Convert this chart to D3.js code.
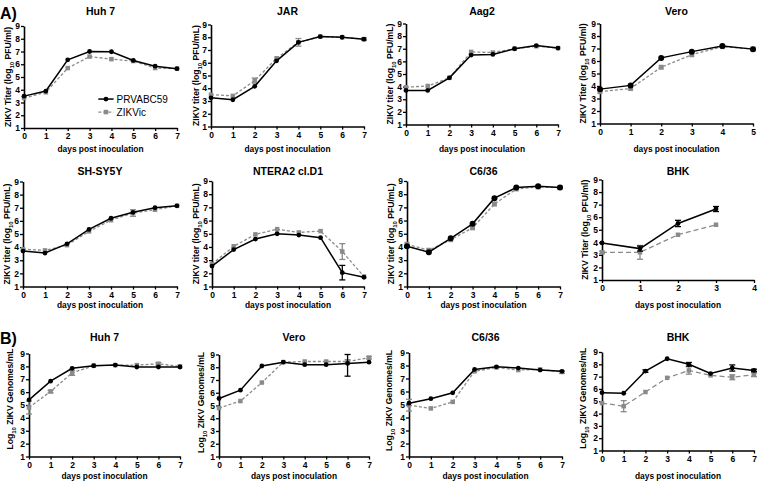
<!DOCTYPE html>
<html><head><meta charset="utf-8">
<script src="https://cdn.jsdelivr.net/npm/d3@7"></script>
<style>
body{margin:0;background:#fff}
text{font-family:"Liberation Sans",Arial,sans-serif;fill:#000}
</style>
</head><body><svg id="c" width="760" height="482"></svg>
<script>
// ---------- data ----------
const days7 = [0,1,2,3,4,5,6,7];
const days5 = [0,1,2,3,4,5];
const days3 = [0,1,2,3];
const seriesNames = ["PRVABC59","ZIKVic"];
const yTicks = [1,2,3,4,5,6,7,8,9];

const titles = ["Huh 7","JAR","Aag2","Vero","SH-SY5Y","NTERA2 cl.D1","C6/36","BHK","Huh 7","Vero","C6/36","BHK"];
const yLabelKinds = ["Tml","tmL","tmL","Tml","tmL","tmL","tmL","Tml","G","G","G","G"];

// A) titers
const huh7_prv = [3.5,3.9,6.35,7.0,6.98,6.3,5.85,5.65];
const huh7_zic = [3.35,3.8,5.7,6.6,6.4,6.25,5.7,5.65];
const jar_prv = [3.25,3.1,4.15,6.15,7.6,8.05,8.0,7.85];
const jar_zic = [3.5,3.4,4.6,6.35,7.6,8.05,8.0,7.85];
const jar_zicErr = [0,0,0.2,0,0.3,0,0,0.1];
const aag2_prv = [3.7,3.7,4.7,6.5,6.55,7.0,7.25,7.05];
const aag2_zic = [3.95,4.05,4.7,6.75,6.7,7.0,7.2,7.05];
const vero_prv = [3.75,4.05,6.25,6.75,7.2,6.95];
const vero_zic = [3.55,3.8,5.5,6.5,7.15,6.95];
const shsy_prv = [3.7,3.55,4.25,5.35,6.2,6.65,7.0,7.15];
const shsy_zic = [3.85,3.75,4.15,5.2,6.05,6.6,6.85,7.15];
const shsy_zicErr = [0,0,0,0,0,0.25,0,0];
const ntera_prv = [2.55,3.8,4.6,5.0,4.9,4.7,2.05,1.7];
const ntera_prvErr = [0,0,0,0,0,0,0.55,0];
const ntera_zic = [2.7,4.05,4.95,5.35,5.1,5.2,3.65,1.75];
const ntera_zicErr = [0,0,0,0,0,0,0.6,0];
const c636_prv = [4.05,3.6,4.65,5.75,7.7,8.5,8.6,8.5];
const c636_zic = [4.2,3.75,4.55,5.45,7.25,8.4,8.55,8.5];
const bhk_prv = [3.95,3.5,5.5,6.65];
const bhk_prvErr = [0,0.2,0.25,0.2];
const bhk_zic = [3.2,3.2,4.6,5.4];
const bhk_zicErr = [0.1,0.55,0,0];

// B) genomes
const gHuh7_prv = [5.4,6.85,7.85,8.05,8.1,7.95,7.95,7.95];
const gHuh7_zic = [4.8,6.05,7.5,8.05,8.1,8.1,8.2,8.0];
const gHuh7_zicErr = [0.5,0.1,0.2,0,0,0,0.1,0];
const gVero_prv = [5.55,6.2,8.1,8.4,8.2,8.2,8.3,8.4];
const gVero_prvErr = [0,0,0,0,0,0,1.0,0];
const gVero_zic = [4.8,5.35,6.8,8.4,8.45,8.45,8.45,8.75];
const gVero_zicErr = [0,0,0,0,0,0,0.15,0.1];
const gC636_prv = [5.1,5.45,5.9,7.7,7.9,7.8,7.65,7.55];
const gC636_zic = [4.95,4.7,5.2,7.55,7.85,7.65,7.7,7.5];
const gC636_zicErr = [0.45,0,0,0,0,0,0,0.1];
const gBhk_prv = [5.7,5.65,7.45,8.45,8.0,7.25,7.7,7.5];
const gBhk_prvErr = [0,0,0.1,0,0.15,0,0.25,0.1];
const gBhk_zic = [4.85,4.6,5.75,6.9,7.5,7.1,6.95,7.15];
const gBhk_zicErr = [0,0.45,0,0,0.3,0,0.2,0.15];

// ---------- layout ----------
const panels = [
 {d:days7,xMax:7,p:huh7_prv,z:huh7_zic, box:[24,177,26,128], row:0, legend:true, yl:16},
 {d:days7,xMax:7,p:jar_prv,z:jar_zic,zE:jar_zicErr, box:[211,364,24.5,126.5], row:0, yl:15},
 {d:days7,xMax:7,p:aag2_prv,z:aag2_zic, box:[406,558,23.5,124.5], row:0, yl:16},
 {d:days5,xMax:5,p:vero_prv,z:vero_zic, box:[600,753,23.5,123.5], row:0, big:true, yl:17},
 {d:days7,xMax:7,p:shsy_prv,z:shsy_zic,zE:shsy_zicErr, box:[23,177,181.5,286.5], row:1, yl:16},
 {d:days7,xMax:7,p:ntera_prv,pE:ntera_prvErr,z:ntera_zic,zE:ntera_zicErr, box:[212,364,181,286.5], row:1, yl:16},
 {d:days7,xMax:7,p:c636_prv,z:c636_zic, box:[407,560,181,286.5], row:1, big:true, yl:16},
 {d:days3,xMax:4,p:bhk_prv,pE:bhk_prvErr,z:bhk_zic,zE:bhk_zicErr, box:[602,754,179.5,280], row:1, longDash:true, yl:17},
 {d:days7,xMax:7,p:gHuh7_prv,z:gHuh7_zic,zE:gHuh7_zicErr, box:[29,180,353.5,456.5], row:2, yl:19, ylShift:-6},
 {d:days7,xMax:7,p:gVero_prv,pE:gVero_prvErr,z:gVero_zic,zE:gVero_zicErr, box:[219,369,354.5,456.5], row:2, yl:18, ylShift:-3},
 {d:days7,xMax:7,p:gC636_prv,z:gC636_zic,zE:gC636_zicErr, box:[409,562,352.5,456.5], row:2, yl:20, ylShift:-4},
 {d:days7,xMax:7,p:gBhk_prv,pE:gBhk_prvErr,z:gBhk_zic,zE:gBhk_zicErr, box:[602,754,352,450.5], row:2, longDash:true, yl:19, ylShift:-3}
];
const titleY = [15,175,341];
const xTitleY = [152,308,479];

const svg = d3.select("#c");
svg.append("text").attr("x",0).attr("y",19).attr("font-size",16).attr("font-weight","bold").text("A)");
svg.append("text").attr("x",0).attr("y",344).attr("font-size",16).attr("font-weight","bold").text("B)");

const BLACK="#000", GRAY="#8a8a8a";

panels.forEach((P,i)=>{
  const [x0,x1,yT,yB]=P.box;
  const x=d3.scaleLinear().domain([0,P.xMax]).range([x0,x1]);
  const y=d3.scaleLinear().domain([1,9]).range([yB,yT]);
  const g=svg.append("g");

  // axes
  const ax=g.append("g").attr("transform",`translate(0,${yB})`)
    .call(d3.axisBottom(x).tickValues(d3.range(0,P.xMax+1)).tickFormat(d3.format("d")).tickSize(3).tickSizeOuter(0).tickPadding(2));
  const ay=g.append("g").attr("transform",`translate(${x0},0)`)
    .call(d3.axisLeft(y).tickValues(yTicks).tickFormat(d3.format("d")).tickSize(3).tickSizeOuter(0).tickPadding(1));
  [ax,ay].forEach(a=>{
    a.select(".domain").attr("stroke","#000").attr("stroke-width",1.6);
    a.selectAll(".tick line").attr("stroke","#000").attr("stroke-width",1.3);
    a.selectAll(".tick text").attr("font-size",8.5).attr("font-family","Liberation Sans,Arial").attr("font-weight","bold").attr("fill","#000");
  });

  // title
  g.append("text").attr("x",(x0+x1)/2).attr("y",titleY[P.row]).attr("text-anchor","middle").attr("font-size",10.5).attr("font-weight","bold").text(titles[i]);
  // x title
  g.append("text").attr("x",(x0+x1)/2).attr("y",xTitleY[P.row]).attr("text-anchor","middle").attr("font-size",8.4).attr("font-weight","bold").text("days post inoculation");
  // y title
  const yl=g.append("text").attr("transform",`translate(${x0-P.yl+3},${(yT+yB)/2+(P.ylShift||0)}) rotate(-90)`).attr("text-anchor","middle").attr("font-size",8.6).attr("font-weight","bold");
  const kind=yLabelKinds[i];
  if(kind==="G"){
    yl.append("tspan").text("Log");
    yl.append("tspan").attr("font-size",6).attr("dy",2.5).text("10");
    yl.append("tspan").attr("dy",-2.5).text(" ZIKV Genomes/mL");
  } else {
    yl.append("tspan").text(kind==="Tml"?"ZIKV Titer (log":"ZIKV titer (log");
    yl.append("tspan").attr("font-size",6).attr("dy",2.5).text("10");
    yl.append("tspan").attr("dy",-2.5).text(kind==="Tml"?" PFU/ml)":" PFU/mL)");
  }

  const line=d3.line().x((v,k)=>x(P.d[k])).y(v=>y(v));
  const drawErr=(vals,errs,col)=>{
    if(!errs) return;
    vals.forEach((v,k)=>{
      const e=errs[k]; if(!e) return;
      const cx=x(P.d[k]);
      const lo=y(v-e), hi=y(Math.min(9,v+e));
      g.append("line").attr("x1",cx).attr("x2",cx).attr("y1",lo).attr("y2",hi).attr("stroke",col).attr("stroke-width",1.3);
      [lo,hi].forEach(yy=>g.append("line").attr("x1",cx-3).attr("x2",cx+3).attr("y1",yy).attr("y2",yy).attr("stroke",col).attr("stroke-width",1.3));
    });
  };
  g.append("path").datum(P.z).attr("d",line).attr("fill","none").attr("stroke",GRAY).attr("stroke-width",1.3)
    .attr("stroke-dasharray",P.longDash?"5,3":"3,2");
  drawErr(P.z,P.zE,GRAY);
  const sq=P.big?5:4.5;
  g.selectAll(null).data(P.z).enter().append("rect")
    .attr("x",(v,k)=>x(P.d[k])-sq/2).attr("y",v=>y(v)-sq/2).attr("width",sq).attr("height",sq).attr("fill",GRAY);

  g.append("path").datum(P.p).attr("d",line).attr("fill","none").attr("stroke",BLACK).attr("stroke-width",1.5);
  drawErr(P.p,P.pE,BLACK);
  g.selectAll(null).data(P.p).enter().append("circle")
    .attr("cx",(v,k)=>x(P.d[k])).attr("cy",v=>y(v)).attr("r",P.big?3:2.4).attr("fill",BLACK);

  if(P.legend){
    const lg=g.append("g");
    const lx0=x(3.4), lx1=x(4.1), ly=[y(3.27),y(2.25)];
    lg.append("line").attr("x1",lx0).attr("x2",lx1).attr("y1",ly[0]).attr("y2",ly[0]).attr("stroke",BLACK).attr("stroke-width",1.5);
    lg.append("circle").attr("cx",(lx0+lx1)/2).attr("cy",ly[0]).attr("r",2.4).attr("fill",BLACK);
    lg.append("line").attr("x1",lx0).attr("x2",lx1).attr("y1",ly[1]).attr("y2",ly[1]).attr("stroke",GRAY).attr("stroke-width",1.3).attr("stroke-dasharray","3,2");
    lg.append("rect").attr("x",(lx0+lx1)/2-2.25).attr("y",ly[1]-2.25).attr("width",4.5).attr("height",4.5).attr("fill",GRAY);
    seriesNames.forEach((s,k)=>lg.append("text").attr("x",lx1+3).attr("y",ly[k]+3.5).attr("font-size",10).attr("font-weight","normal").text(s));
  }
});
</script></body></html>
